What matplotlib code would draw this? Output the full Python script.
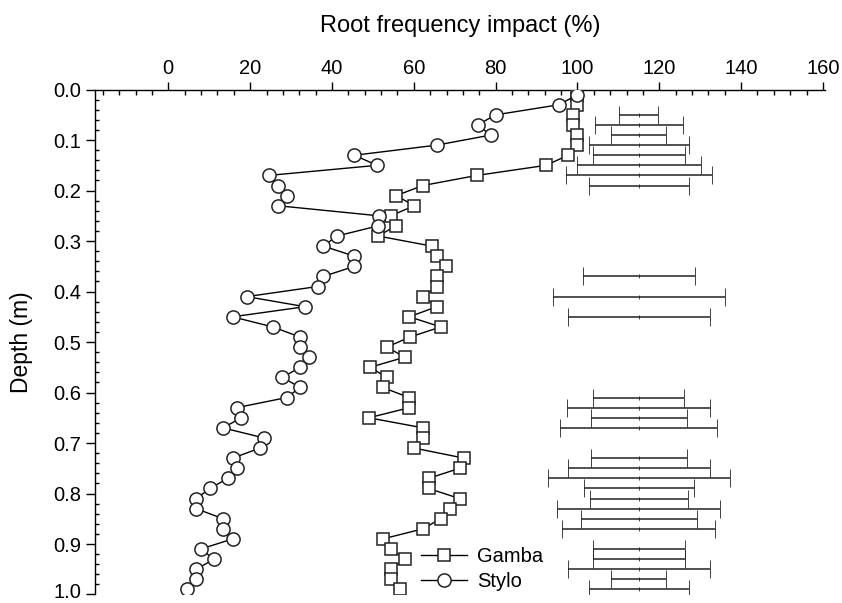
#!/usr/bin/python3
#
# Root frequency impact vs depth for Gamba and Stylo,
# with the spread bars drawn on the right side

##################################################
#
# requirements
#
##################################################

import matplotlib
matplotlib.use("Agg")
import matplotlib.pyplot as plt
from matplotlib.ticker import MultipleLocator, FormatStrFormatter
from matplotlib.transforms import ScaledTranslation

plt.rcParams['font.family'] = ['Liberation Sans', 'DejaVu Sans']

##################################################
#
# data
#
##################################################

depth = [0.01, 0.03, 0.05, 0.07, 0.09, 0.11, 0.13, 0.15, 0.17, 0.19,
         0.21, 0.23, 0.25, 0.27, 0.29, 0.31, 0.33, 0.35, 0.37, 0.39,
         0.41, 0.43, 0.45, 0.47, 0.49, 0.51, 0.53, 0.55, 0.57, 0.59,
         0.61, 0.63, 0.65, 0.67, 0.69, 0.71, 0.73, 0.75, 0.77, 0.79,
         0.81, 0.83, 0.85, 0.87, 0.89, 0.91, 0.93, 0.95, 0.97, 0.99]

gamba = [100, 100, 98.9, 98.9, 100, 100, 97.7, 92.3, 75.4, 62.2,
         55.7, 60.1, 54.4, 55.6, 51.3, 64.4, 65.6, 67.8, 65.6, 65.6,
         62.3, 65.6, 58.9, 66.6, 59.1, 53.4, 57.8, 49.3, 53.4, 52.4,
         58.9, 58.9, 49.0, 62.3, 62.3, 60.1, 72.3, 71.2, 63.6, 63.6,
         71.2, 68.9, 66.6, 62.2, 52.4, 54.4, 57.8, 54.4, 54.4, 56.7]

stylo = [100, 95.5, 80.0, 75.6, 78.8, 65.6, 45.5, 51.0, 24.5, 26.7,
         29.1, 26.8, 51.5, 51.2, 41.2, 37.9, 45.5, 45.5, 37.9, 36.5,
         19.2, 33.4, 15.7, 25.5, 32.2, 32.2, 34.5, 32.2, 27.9, 32.2,
         28.9, 16.7, 17.8, 13.4, 23.4, 22.4, 15.7, 16.7, 14.5, 10.2,
         6.8, 6.8, 13.4, 13.4, 15.7, 7.9, 11.2, 6.8, 6.8, 4.5]

# spread bars (centre and half width)
bar_centre = 115
bar_depth = [0.05, 0.07, 0.09, 0.11, 0.13, 0.15, 0.17, 0.19,
             0.37, 0.41, 0.45,
             0.61, 0.63, 0.65, 0.67,
             0.73, 0.75, 0.77, 0.79, 0.81, 0.83, 0.85, 0.87,
             0.91, 0.93, 0.95, 0.97, 0.99]
bar_half = [4.8, 10.7, 6.7, 12.25, 11.2, 15.2, 17.9, 12.25,
            13.7, 21.0, 17.4,
            11.1, 17.5, 11.8, 19.2,
            11.8, 17.4, 22.3, 13.5, 12.0, 19.9, 14.2, 18.7,
            11.2, 11.2, 17.4, 6.7, 12.3]


##################################################
#
# plot_depth_profile
#
##################################################

def plot_depth_profile(outfile):

    fig = plt.figure(figsize=(8.42, 6.03), dpi=100)
    ax = fig.add_axes([0.1134, 0.0141, 0.8664, 0.8373])

    # spread bars
    ax.errorbar([bar_centre] * len(bar_depth), bar_depth, xerr=bar_half,
                fmt='|', color='#222222', ecolor='#222222', markersize=3,
                markeredgewidth=0.6, elinewidth=1.1, capsize=6.5,
                capthick=1.1, zorder=2)

    # profiles
    ax.plot(gamba, depth, color='black', linewidth=1.0, marker='s',
            markersize=8, markerfacecolor='white', markeredgecolor='#222222',
            markeredgewidth=1.1, label='Gamba', zorder=3)
    ax.plot(stylo, depth, color='black', linewidth=1.0, marker='o',
            markersize=9.5, markerfacecolor='white', markeredgecolor='#222222',
            markeredgewidth=1.1, label='Stylo', zorder=4)

    # axes limits
    ax.set_xlim(-17.8, 160.5)
    ax.set_ylim(1.0, 0.0)

    # only top and left spines
    ax.spines['right'].set_visible(False)
    ax.spines['bottom'].set_visible(False)
    ax.spines['top'].set_linewidth(1.0)
    ax.spines['left'].set_linewidth(1.0)

    # x axis on top
    ax.xaxis.tick_top()
    ax.xaxis.set_label_position('top')
    ax.xaxis.set_minor_locator(MultipleLocator(4))
    ax.set_xticks([0, 20, 40, 60, 80, 100, 120, 140, 160])
    ax.tick_params(axis='x', which='major', direction='out', length=5.5,
                   width=1.0, labelsize=14.5, pad=3)
    ax.tick_params(axis='x', which='minor', direction='in', length=3.8,
                   width=1.0)

    # y axis
    ax.set_yticks([0.0, 0.1, 0.2, 0.3, 0.4, 0.5, 0.6, 0.7, 0.8, 0.9, 1.0])
    ax.yaxis.set_minor_locator(MultipleLocator(0.02))
    ax.yaxis.set_major_formatter(FormatStrFormatter('%.1f'))
    ax.tick_params(axis='y', which='major', direction='out', length=6.5,
                   width=1.0, labelsize=14.5, pad=4)
    ax.tick_params(axis='y', which='minor', direction='in', length=3.2,
                   width=1.0)

    # keep the bottom label inside the picture
    last = ax.get_yticklabels()[-1]
    last.set_transform(last.get_transform() +
                       ScaledTranslation(0, 3 / 72, fig.dpi_scale_trans))

    # labels
    ax.set_xlabel('Root frequency impact (%)', fontsize=17, labelpad=19)
    ax.set_ylabel('Depth (m)', fontsize=16.5, labelpad=14)

    # legend
    ax.legend(loc='upper left', bbox_to_anchor=(0.4458, 0.094), frameon=False,
              fontsize=14.5, handlelength=2.3, handletextpad=0.5,
              labelspacing=0.32, borderpad=0, borderaxespad=0)

    print(f"Saving plot {outfile}")
    fig.savefig(outfile, dpi=100)
    plt.close(fig)


##################################################
#
# main
#
##################################################

if __name__ == "__main__":

    plot_depth_profile("out.png")
